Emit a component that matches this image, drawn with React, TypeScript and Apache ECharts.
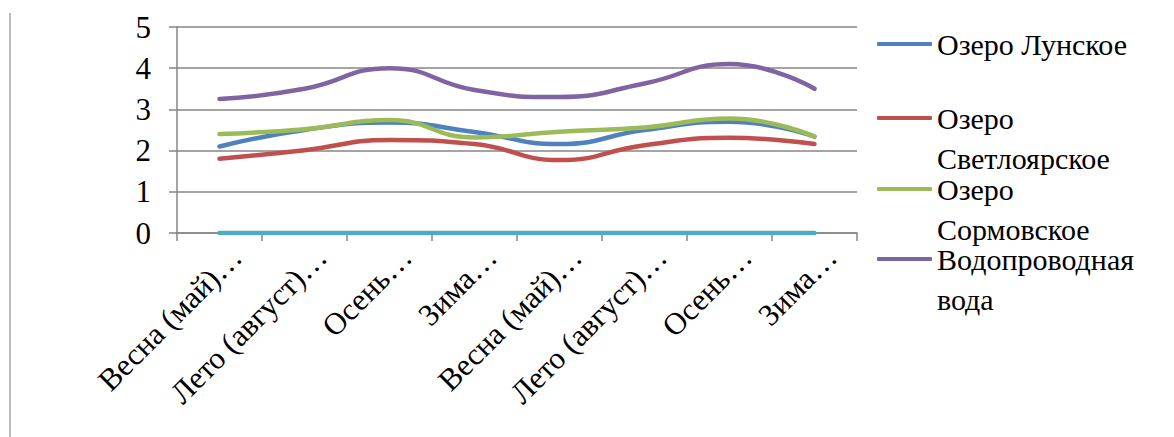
import React, { useEffect, useRef } from "react";
import * as echarts from "echarts";

const categories = [
  "Весна (май)…",
  "Лето (август)…",
  "Осень…",
  "Зима…",
  "Весна (май)…",
  "Лето (август)…",
  "Осень…",
  "Зима…",
];
const yTickMin = 0;
const yTickMax = 5;
const yTickStep = 1;
const lunskoe = [2.1, 2.5, 2.68, 2.45, 2.16, 2.5, 2.7, 2.34];
const svetloyarskoe = [1.8, 2.01, 2.26, 2.16, 1.77, 2.13, 2.31, 2.16];
const sormovskoe = [2.4, 2.52, 2.74, 2.32, 2.46, 2.56, 2.78, 2.34];
const tapWater = [3.25, 3.5, 4.0, 3.47, 3.3, 3.63, 4.1, 3.5];
const fifthSeries = [0, 0, 0, 0, 0, 0, 0, 0];

const seriesNames = [
  "Озеро Лунское",
  "Озеро Светлоярское",
  "Озеро Сормовское",
  "Водопроводная вода",
  "Ряд5",
];
const legendFirstLines = ["Озеро Лунское", "Озеро", "Озеро", "Водопроводная"];
const legendSecondLines = ["", "Светлоярское", "Сормовское", "вода"];
const colors = ["#4F81BD", "#C0504D", "#9BBB59", "#8064A2", "#4BACC6"];

const FONT = "Liberation Serif";
const FS = 31;
const LEGEND_FS = 30;
const LEGEND_LH = 28;
const AXIS_GREY = "#868686";

export default function App() {
  const ref = useRef<HTMLDivElement>(null);
  useEffect(() => {
    if (!ref.current) return;
    const chart = echarts.init(ref.current, undefined, { renderer: "svg" });
    const allData = [lunskoe, svetloyarskoe, sormovskoe, tapWater, fifthSeries];
    const iconCenters = [43, 117, 188, 258];
    const legendLeft = 877;
    const iconW = 55;
    const legends = legendFirstLines.map((lbl, i) => ({
      data: [seriesNames[i]],
      left: legendLeft,
      top: iconCenters[i] - LEGEND_LH / 2,
      padding: 0,
      icon: "roundRect",
      itemWidth: iconW,
      itemHeight: 4,
      selectedMode: false,
      formatter: () => lbl,
      textStyle: {
        fontFamily: FONT,
        fontSize: LEGEND_FS,
        color: "#000",
        lineHeight: LEGEND_LH,
      },
    }));
    const secondLineTexts = legendSecondLines
      .map((t, i) => ({ t, i }))
      .filter((o) => o.t)
      .map(({ t, i }) => ({
        type: "text",
        x: legendLeft + iconW + 5,
        y: iconCenters[i] + 41,
        silent: true,
        style: {
          text: t,
          fontFamily: FONT,
          fontSize: LEGEND_FS,
          lineHeight: LEGEND_LH,
          fill: "#000",
          align: "left",
          verticalAlign: "middle",
        },
      }));
    const labelShift = 17;
    chart.setOption({
      animation: false,
      backgroundColor: "#fff",
      color: colors,
      textStyle: { fontFamily: FONT, fontSize: FS },
      legend: legends,
      grid: [
        { left: 177, right: 317, top: 27, bottom: 204, containLabel: false },
        { left: 177 + labelShift, right: 317 - labelShift, top: 27, bottom: 204, containLabel: false },
      ],
      xAxis: [
        {
          type: "category",
          gridIndex: 0,
          data: categories,
          boundaryGap: true,
          axisLine: { show: true, lineStyle: { color: AXIS_GREY, width: 1.5 } },
          axisTick: { show: true, length: 8, interval: 0, lineStyle: { color: AXIS_GREY, width: 1.5 } },
          axisLabel: { show: false },
          splitLine: { show: false },
        },
        {
          type: "category",
          gridIndex: 1,
          data: categories,
          boundaryGap: true,
          axisLine: { show: false },
          axisTick: { show: false },
          axisLabel: {
            interval: 0,
            rotate: 45,
            margin: 19,
            fontFamily: FONT,
            fontSize: FS,
            color: "#000",
          },
          splitLine: { show: false },
        },
      ],
      yAxis: [
        {
          type: "value",
          gridIndex: 0,
          min: yTickMin,
          max: yTickMax,
          interval: yTickStep,
          axisLine: { show: true, lineStyle: { color: AXIS_GREY, width: 1.5 } },
          axisTick: { show: true, length: 8, lineStyle: { color: AXIS_GREY, width: 1.5 } },
          axisLabel: { margin: 26, fontFamily: FONT, fontSize: FS, color: "#000" },
          splitLine: { show: true, lineStyle: { color: AXIS_GREY, width: 1.5 } },
        },
        {
          type: "value",
          gridIndex: 1,
          min: yTickMin,
          max: yTickMax,
          interval: yTickStep,
          show: false,
        },
      ],
      graphic: [
        {
          type: "line",
          shape: { x1: 10, y1: 13, x2: 10, y2: 437 },
          style: { stroke: "#a6a6a6", lineWidth: 1.5 },
          silent: true,
        },
        ...secondLineTexts,
      ],
      series: allData.map((d, i) => ({
        name: seriesNames[i],
        type: "line",
        xAxisIndex: 0,
        yAxisIndex: 0,
        data: d,
        smooth: 0.5,
        symbol: "none",
        lineStyle: { width: 4.5, color: colors[i], cap: "round" },
        itemStyle: { color: colors[i] },
        z: 2 + i,
      })),
    });
    return () => chart.dispose();
  }, []);
  return (
    <div
      ref={ref}
      style={{ position: "absolute", left: 0, top: 0, width: 1174, height: 437 }}
    />
  );
}
